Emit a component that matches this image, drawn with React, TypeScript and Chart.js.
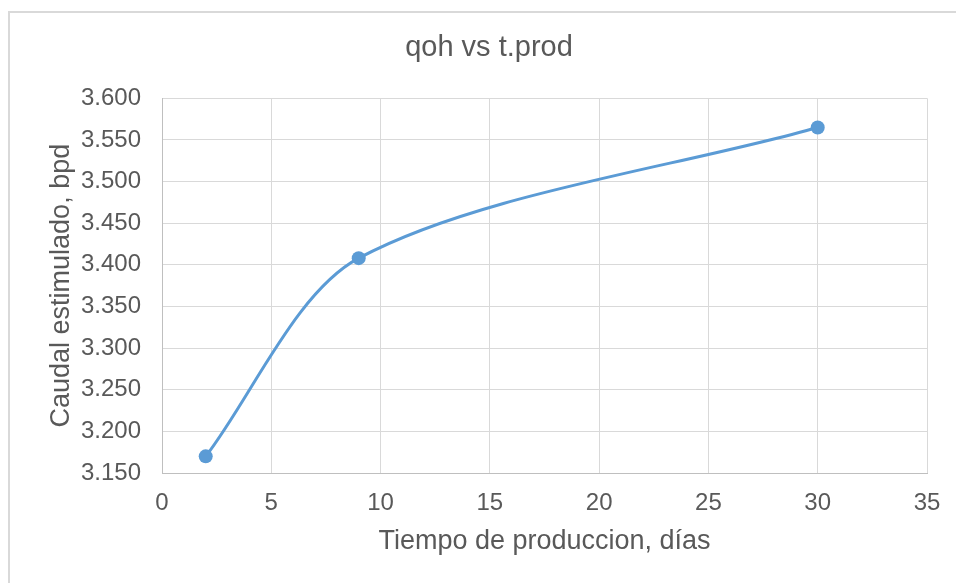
import React, { useEffect, useRef } from "react";
import { Chart, registerables } from "chart.js";

Chart.register(...registerables);

// ---- data ----
const tiempoDias = [2, 9, 30];
const caudalBpd = [3.17, 3.408, 3.565];

const xMin = 0;
const xMax = 35;
const xStep = 5;
const yMin = 3.15;
const yMax = 3.6;
const yStep = 0.05;

const chartTitle = "qoh vs t.prod";
const xAxisTitle = "Tiempo de produccion, días";
const yAxisTitle = "Caudal estimulado, bpd";

const FONT = "'Liberation Sans', Arial, sans-serif";
const TEXT = "#595959";
const GRID = "#d9d9d9";
const AXIS = "#bfbfbf";
const SERIES = "#5b9bd5";

export default function App() {
  const ref = useRef<HTMLCanvasElement | null>(null);

  useEffect(() => {
    if (!ref.current) return;
    const chart = new Chart(ref.current, {
      type: "line",
      data: {
        datasets: [
          {
            data: tiempoDias.map((x, i) => ({ x, y: caudalBpd[i] })),
            borderColor: SERIES,
            backgroundColor: SERIES,
            borderWidth: 3,
            pointRadius: 7,
            pointBorderWidth: 0,
            pointBackgroundColor: SERIES,
            tension: 0.3,
            fill: false,
            clip: false as any,
          },
        ],
      },
      options: {
        animation: false,
        responsive: false,
        devicePixelRatio: 1,
        events: [],
        layout: { padding: { left: 51, right: 29, top: 0, bottom: 0 } },
        plugins: {
          legend: { display: false },
          tooltip: { enabled: false },
          title: {
            display: true,
            text: chartTitle,
            color: TEXT,
            font: { family: FONT, size: 29, weight: "normal" },
            padding: { top: 31, bottom: 32.5 },
          },
        },
        scales: {
          x: {
            type: "linear",
            min: xMin,
            max: xMax,
            ticks: {
              stepSize: xStep,
              color: TEXT,
              padding: 15.6,
              font: { family: FONT, size: 24 },
            },
            grid: { color: GRID, lineWidth: 1, drawTicks: false },
            border: { color: AXIS, width: 1 },
            title: {
              display: true,
              text: xAxisTitle,
              color: TEXT,
              font: { family: FONT, size: 27 },
              padding: { top: 0, bottom: 24.8 },
            },
            afterFit: (s: any) => {
              s.height = 110;
            },
          },
          y: {
            type: "linear",
            min: yMin,
            max: yMax,
            ticks: {
              stepSize: yStep,
              color: TEXT,
              padding: 21,
              font: { family: FONT, size: 24 },
              callback: (v: any) => Number(v).toFixed(3),
            },
            grid: { color: GRID, lineWidth: 1, drawTicks: false },
            border: { color: AXIS, width: 1 },
            title: {
              display: true,
              text: yAxisTitle,
              color: TEXT,
              font: { family: FONT, size: 27 },
              padding: { top: -6, bottom: 0 },
            },
            afterFit: (s: any) => {
              s.width = 111;
            },
          },
        },
      },
    });
    return () => chart.destroy();
  }, []);

  return (
    <div style={{ position: "absolute", left: 0, top: 0, width: 956, height: 583, overflow: "hidden", background: "#fff" }}>
      <div
        style={{
          position: "absolute",
          left: 8,
          top: 11,
          width: 948,
          height: 572,
          borderTop: "2px solid #d9d9d9",
          borderLeft: "2px solid #d9d9d9",
          boxSizing: "border-box",
        }}
      />
      <canvas ref={ref} width={956} height={583} style={{ position: "absolute", left: 0, top: 0 }} />
    </div>
  );
}
